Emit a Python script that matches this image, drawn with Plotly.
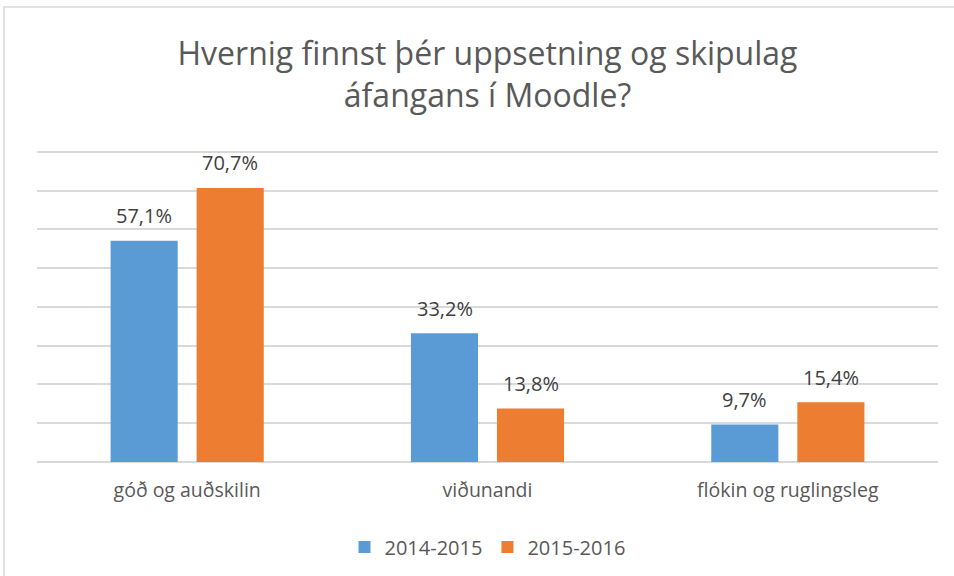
import plotly.graph_objects as go

categories = ["góð og auðskilin", "viðunandi", "flókin og ruglingsleg"]
series_names = ["2014-2015", "2015-2016"]
values_2014 = [57.1, 33.2, 9.7]
values_2015 = [70.7, 13.8, 15.4]
colors = ["#5B9BD5", "#ED7D31"]

FONT = "Open Sans"

def lbl(v):
    return f"{v:.1f}%".replace(".", ",")

fig = go.Figure()
annotations = []
for i, (name, vals, col) in enumerate(zip(series_names, [values_2014, values_2015], colors)):
    fig.add_trace(go.Bar(
        x=categories, y=vals, name=name, marker_color=col,
        marker_line_width=0,
    ))
    for c, v in zip(categories, vals):
        annotations.append(dict(
            x=c, y=v, xref="x", yref="y", text=lbl(v), showarrow=False,
            xshift=(-43 if i == 0 else 43), yshift=25, yanchor="middle",
            font=dict(size=20, color="#404040", family=FONT),
        ))

PH = 576 - 148 - 114  # plot height in px

fig.update_layout(
    width=954, height=576,
    paper_bgcolor="white", plot_bgcolor="white",
    margin=dict(l=37, r=16, t=148, b=114, autoexpand=False),
    barmode="group", bargap=0.427, bargroupgap=0.22,
    title=dict(
        text="Hvernig finnst þér uppsetning og skipulag<br>áfangans í Moodle?",
        x=0.5, xanchor="center", xref="paper", yref="container",
        y=1 - 65/576, yanchor="middle",
        font=dict(size=32, color="#595959", family=FONT),
    ),
    xaxis=dict(showgrid=False, showline=False, ticks="", ticklabelstandoff=14,
               tickfont=dict(size=19.5, color="#595959", family=FONT)),
    yaxis=dict(range=[0, 81], tickvals=[10, 20, 30, 40, 50, 60, 70, 80], showticklabels=False,
               gridcolor="#D9D9D9", gridwidth=1.5, zeroline=True,
               zerolinecolor="#D9D9D9", zerolinewidth=1.5, showline=False),
    legend=dict(orientation="h", x=0.5, xanchor="center", y=-85/PH, yanchor="middle",
                font=dict(size=20, color="#595959", family=FONT),
                itemwidth=30, traceorder="normal"),
    annotations=annotations,
    shapes=[dict(type="rect", xref="paper", yref="paper",
                 x0=-33/901, x1=1.1, y0=-0.5, y1=1 + 141/PH,
                 line=dict(color="#D9D9D9", width=1.5), fillcolor="rgba(0,0,0,0)", layer="below")],
)

fig.write_html("out.html", config={"displayModeBar": False},
               post_script="document.body.style.margin='0';document.body.style.overflow='hidden';")
